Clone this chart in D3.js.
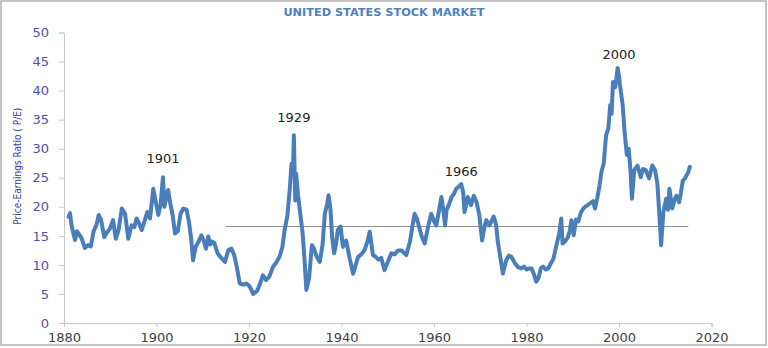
<!DOCTYPE html>
<html>
<head>
<meta charset="utf-8">
<script src="https://cdn.jsdelivr.net/npm/d3@7"></script>
<style>
  html, body { margin: 0; padding: 0; background: #fff; }
  svg { display: block; }
</style>
</head>
<body>
<svg id="chart" width="768" height="348"></svg>
<script>
// ---- data ----
const title = "UNITED STATES STOCK MARKET";
const yAxisTitle = "Price-Earnings Ratio ( P/E)";
const yTicks = [0, 5, 10, 15, 20, 25, 30, 35, 40, 45, 50];
const xTicks = [1880, 1900, 1920, 1940, 1960, 1980, 2000, 2020];

const years = [
  1881.0, 1881.3, 1881.6, 1882.0, 1882.4, 1882.8, 1883.3, 1883.8, 1884.5, 1885.2, 1885.8,
  1886.4, 1887.0, 1887.5, 1888.0, 1888.7, 1889.3, 1889.9, 1890.6, 1891.2, 1891.8, 1892.5,
  1893.2, 1893.9, 1894.6, 1895.2, 1895.7, 1896.3, 1896.8, 1897.4, 1898.0, 1898.6, 1899.3,
  1899.8, 1900.4, 1900.9, 1901.4, 1901.7, 1902.1, 1902.5, 1903.0, 1903.5, 1904.0, 1904.6,
  1905.2, 1905.8, 1906.5, 1907.0, 1907.5, 1907.9, 1908.5, 1909.1, 1909.7, 1910.2, 1910.7,
  1911.2, 1911.6, 1912.0, 1912.5, 1913.2, 1914.0, 1914.8, 1915.5, 1916.2, 1916.8, 1917.4,
  1918.0, 1918.8, 1919.5, 1920.2, 1920.9, 1921.4, 1921.8, 1922.4, 1923.0, 1923.7, 1924.4,
  1925.2, 1925.9, 1926.6, 1927.2, 1927.7, 1928.3, 1928.8, 1929.2, 1929.5, 1929.7, 1930.0,
  1930.2, 1930.6, 1931.0, 1931.6, 1932.0, 1932.4, 1933.0, 1933.6, 1934.0, 1934.6, 1935.3,
  1935.9, 1936.4, 1936.9, 1937.2, 1937.6, 1938.0, 1938.4, 1938.8, 1939.2, 1939.8, 1940.3,
  1941.0, 1941.8, 1942.5, 1943.0, 1943.6, 1944.3, 1945.0, 1945.6, 1946.1, 1946.8, 1947.4,
  1948.0, 1948.6, 1949.3, 1950.0, 1950.8, 1951.5, 1952.2, 1953.0, 1953.6, 1954.0, 1954.8,
  1955.3, 1955.8, 1956.3, 1956.7, 1957.3, 1958.0, 1958.7, 1959.4, 1960.0, 1960.5, 1961.0,
  1961.6, 1962.0, 1962.4, 1962.7, 1963.3, 1963.8, 1964.3, 1964.8, 1965.4, 1965.9, 1966.3,
  1966.6, 1967.0, 1967.3, 1968.0, 1968.6, 1969.2, 1969.8, 1970.4, 1970.9, 1971.3, 1972.0,
  1972.9, 1973.4, 1973.8, 1974.4, 1974.9, 1975.6, 1976.2, 1976.7, 1977.5, 1978.2, 1978.9,
  1979.5, 1980.0, 1980.6, 1981.1, 1981.6, 1982.1, 1982.6, 1983.1, 1983.6, 1984.2, 1984.7,
  1985.2, 1985.8, 1986.5, 1987.1, 1987.5, 1987.8, 1988.3, 1988.9, 1989.4, 1989.7, 1990.2,
  1990.7, 1991.2, 1991.8, 1992.4, 1992.9, 1993.4, 1993.9, 1994.4, 1994.8, 1995.3, 1995.8,
  1996.2, 1996.7, 1997.2, 1997.7, 1998.1, 1998.4, 1998.7, 1999.2, 1999.5, 1999.7, 2000.0,
  2000.2, 2000.8, 2001.2, 2001.7, 2002.1, 2002.5, 2002.8, 2003.3, 2004.0, 2004.7, 2005.2,
  2005.8, 2006.5, 2007.2, 2007.8, 2008.3, 2008.6, 2008.9, 2009.1, 2009.6, 2010.2, 2010.6,
  2010.9, 2011.5, 2012.0, 2012.4, 2013.0, 2013.4, 2013.8, 2014.2, 2014.6, 2015.0, 2015.3
];
const pe = [
  18.3, 18.9, 17.0, 15.5, 14.3, 15.8, 15.2, 14.6, 12.9, 13.4, 13.2,
  15.8, 16.8, 18.6, 17.8, 14.8, 15.6, 16.2, 17.7, 14.5, 16.0, 19.7,
  18.8, 14.5, 16.8, 16.5, 18.0, 17.0, 16.0, 17.5, 19.1, 18.0, 23.1,
  21.0, 18.6, 20.5, 25.1, 20.0, 21.5, 22.9, 20.5, 18.5, 15.4, 15.8,
  18.8, 19.7, 19.5, 17.5, 14.5, 10.8, 13.2, 14.0, 15.1, 14.2, 12.8,
  14.9, 13.5, 14.0, 13.8, 12.0, 11.2, 10.5, 12.5, 12.8, 11.7, 9.5,
  6.8, 6.6, 6.8, 6.2, 5.0, 5.3, 5.6, 6.8, 8.2, 7.4, 8.0,
  9.7, 10.4, 11.4, 13.0, 16.0, 18.5, 22.9, 27.4, 26.0, 32.3, 21.1,
  25.7, 22.0, 19.4, 15.4, 11.0, 5.7, 7.8, 13.4, 12.9, 11.5, 10.5,
  13.5, 18.8, 20.5, 22.0, 19.7, 14.5, 12.0, 13.5, 16.0, 16.6, 13.1,
  14.2, 11.0, 8.5, 9.8, 11.4, 11.8, 12.6, 14.0, 15.7, 11.7, 11.4,
  10.9, 11.2, 9.1, 10.5, 12.0, 11.8, 12.5, 12.5, 12.0, 11.7, 14.0,
  16.5, 18.8, 18.0, 16.8, 15.0, 13.7, 16.5, 18.8, 17.5, 16.8, 19.0,
  21.7, 19.5, 16.8, 19.4, 20.5, 21.7, 22.2, 23.1, 23.5, 23.9, 22.5,
  19.1, 20.5, 21.7, 20.3, 21.9, 20.8, 18.6, 14.2, 16.5, 17.7, 16.8,
  18.3, 17.0, 14.0, 11.0, 8.5, 10.8, 11.6, 11.4, 10.3, 9.6, 9.4,
  9.7, 9.2, 9.4, 9.4, 8.4, 7.1, 7.8, 9.4, 9.7, 9.2, 9.4,
  10.2, 11.0, 13.5, 15.5, 18.0, 13.7, 14.0, 14.7, 16.0, 17.7, 15.1,
  17.8, 17.5, 19.1, 19.8, 20.1, 20.4, 20.7, 21.0, 19.7, 21.5, 23.7,
  26.0, 27.5, 32.3, 33.5, 37.5, 36.0, 41.5, 40.6, 42.5, 43.9, 42.5,
  41.0, 37.5, 33.0, 28.9, 30.0, 26.0, 21.4, 26.3, 27.1, 25.1, 26.5,
  26.3, 24.9, 27.1, 26.3, 24.0, 20.3, 16.5, 13.4, 19.1, 21.4, 19.5,
  23.1, 19.7, 21.2, 21.9, 20.8, 22.5, 24.5, 24.8, 25.4, 26.0, 26.9
];

const annotations = [
  { label: "1901", year: 1901.4, value: 27.6 },
  { label: "1929", year: 1929.7, value: 34.6 },
  { label: "1966", year: 1965.9, value: 25.3 },
  { label: "2000", year: 2000.0, value: 45.4 }
];

const refValue = 16.6;
const refStart = 1915;
const refEnd = 2015;

// ---- chart ----
const svg = d3.select("#chart");

svg.append("rect")
  .attr("x", 1).attr("y", 1).attr("width", 765).attr("height", 344)
  .attr("fill", "#fff").attr("stroke", "#b0b0b0").attr("stroke-width", 1.5);

const x = d3.scaleLinear().domain([1880, 2020]).range([64, 711.5]);
const y = d3.scaleLinear().domain([0, 50]).range([323, 32.5]);

// Title
svg.append("text")
  .attr("x", 384).attr("y", 16)
  .attr("text-anchor", "middle")
  .attr("font-family", "DejaVu Sans, Verdana, sans-serif")
  .attr("font-weight", "bold")
  .attr("font-size", 11.3)
  .attr("fill", "#4f81bd")
  .text(title);

// Y axis
const yAxis = d3.axisLeft(y).tickValues(yTicks).tickSize(5).tickPadding(10);
const gy = svg.append("g").attr("transform", `translate(${x(1880)},0)`).call(yAxis);
gy.select(".domain").attr("stroke", "#c8c8c8");
gy.selectAll(".tick line").attr("stroke", "#c8c8c8");
gy.selectAll(".tick text")
  .attr("font-family", "DejaVu Sans, Verdana, sans-serif")
  .attr("font-size", 13)
  .attr("fill", "#5050a8");

// X axis
const xAxis = d3.axisBottom(x).tickValues(xTicks).tickFormat(d3.format("d")).tickSize(4).tickPadding(6);
const gx = svg.append("g").attr("transform", `translate(0,${y(0)})`).call(xAxis);
gx.select(".domain").attr("stroke", "#c8c8c8");
gx.selectAll(".tick line").attr("stroke", "#c8c8c8");
gx.selectAll(".tick text")
  .attr("font-family", "DejaVu Sans, Verdana, sans-serif")
  .attr("font-size", 13)
  .attr("fill", "#404040");

// Y axis title
svg.append("text")
  .attr("transform", `translate(21,${y(27)}) rotate(-90)`)
  .attr("text-anchor", "middle")
  .attr("font-family", "Liberation Sans Narrow, DejaVu Sans Condensed, Arial Narrow, sans-serif")
  .attr("font-size", 10)
  .attr("fill", "#3c3ca0")
  .text(yAxisTitle);

// Reference line
svg.append("line")
  .attr("x1", x(refStart)).attr("x2", x(refEnd))
  .attr("y1", y(refValue)).attr("y2", y(refValue))
  .attr("stroke", "#8c8c8c").attr("stroke-width", 1);

// Series
const data = years.map((yr, i) => ({ year: yr, value: pe[i] }));
const line = d3.line().x(d => x(d.year)).y(d => y(d.value));
svg.append("path")
  .datum(data)
  .attr("d", line)
  .attr("fill", "none")
  .attr("stroke", "#4a7ebb")
  .attr("stroke-width", 4)
  .attr("stroke-linejoin", "round")
  .attr("stroke-linecap", "round");

// Annotations
svg.selectAll("text.ann")
  .data(annotations)
  .enter().append("text")
  .attr("class", "ann")
  .attr("x", d => x(d.year))
  .attr("y", d => y(d.value))
  .attr("text-anchor", "middle")
  .attr("font-family", "DejaVu Sans, Verdana, sans-serif")
  .attr("font-size", 13)
  .attr("fill", "#222")
  .text(d => d.label);
</script>
</body>
</html>
